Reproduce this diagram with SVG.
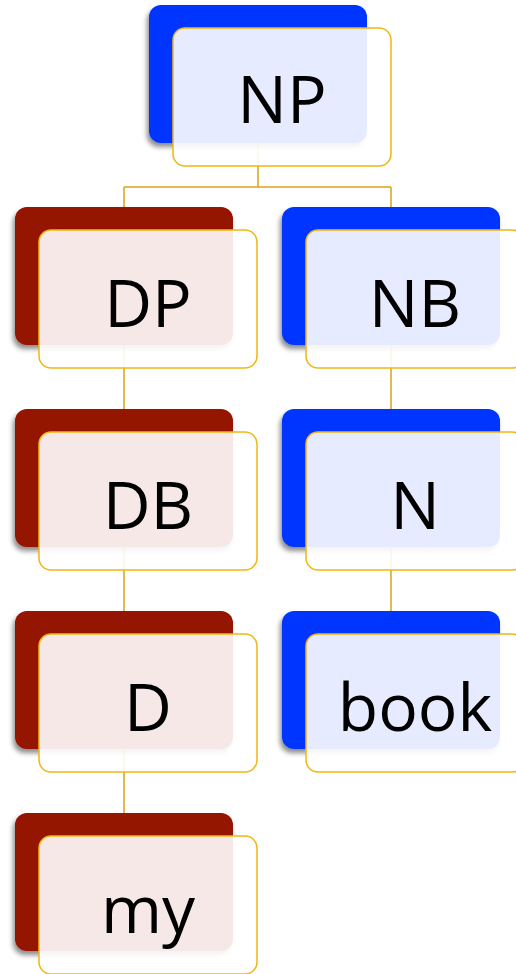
<svg xmlns="http://www.w3.org/2000/svg" width="516" height="974" viewBox="0 0 516 974">
<defs>
<filter id="sh" x="-20%" y="-20%" width="140%" height="140%">
<feDropShadow dx="-2" dy="4" stdDeviation="2.5" flood-color="#000" flood-opacity="0.45"/>
</filter>
<style>
.blue{fill:#0536ff;filter:url(#sh)}
.red{fill:#951200;filter:url(#sh)}
.front{fill:#ffffff;fill-opacity:0.9;stroke:#f0b712;stroke-width:1.5}
.lbl{font-family:"Open Sans","Noto Sans","Liberation Sans",sans-serif;font-size:66px;fill:#000;text-anchor:middle}
.con{fill:none;stroke:#d9a21a;stroke-width:1.5}
</style>
</defs>
<rect width="516" height="974" fill="#ffffff"/>
<g id="connectors">
<path class="con" d="M258,143 V187 M124,187 H391 M124,187 V207 M391,187 V207"/>
<path class="con" d="M124,346 V409 M124,548 V611 M124,750 V813"/>
<path class="con" d="M391,346 V409 M391,548 V611"/>
</g>
<g id="NP">
<rect class="blue" x="149" y="5" width="218" height="138" rx="12"/>
<rect class="front" x="173" y="28" width="218" height="138" rx="12"/>
<text class="lbl" x="282" y="123">NP</text>
</g>
<g id="DP">
<rect class="red" x="15" y="207" width="218" height="138" rx="12"/>
<rect class="front" x="39" y="230" width="218" height="138" rx="12"/>
<text class="lbl" x="148" y="327">DP</text>
</g>
<g id="NB">
<rect class="blue" x="282" y="207" width="218" height="138" rx="12"/>
<rect class="front" x="306" y="230" width="218" height="138" rx="12"/>
<text class="lbl" x="415" y="327">NB</text>
</g>
<g id="DB">
<rect class="red" x="15" y="409" width="218" height="138" rx="12"/>
<rect class="front" x="39" y="432" width="218" height="138" rx="12"/>
<text class="lbl" x="148" y="529">DB</text>
</g>
<g id="N">
<rect class="blue" x="282" y="409" width="218" height="138" rx="12"/>
<rect class="front" x="306" y="432" width="218" height="138" rx="12"/>
<text class="lbl" x="415" y="529">N</text>
</g>
<g id="D">
<rect class="red" x="15" y="611" width="218" height="138" rx="12"/>
<rect class="front" x="39" y="634" width="218" height="138" rx="12"/>
<text class="lbl" x="148" y="731">D</text>
</g>
<g id="book">
<rect class="blue" x="282" y="611" width="218" height="138" rx="12"/>
<rect class="front" x="306" y="634" width="218" height="138" rx="12"/>
<text class="lbl" x="415" y="731">book</text>
</g>
<g id="my">
<rect class="red" x="15" y="813" width="218" height="138" rx="12"/>
<rect class="front" x="39" y="836" width="218" height="138" rx="12"/>
<text class="lbl" x="148" y="933">my</text>
</g>
</svg>
